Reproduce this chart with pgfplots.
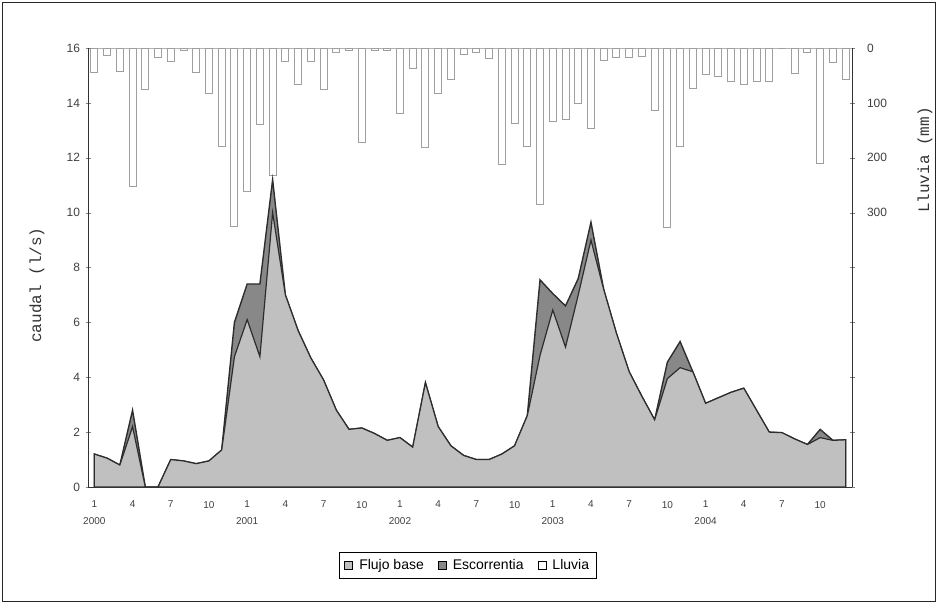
\documentclass[border=0pt]{standalone}
\usepackage{pgfplots}
\pgfplotsset{compat=1.18}
\usepackage{pgfplotstable}
\usepackage{fontspec}
\setmainfont{Liberation Sans}
\setmonofont{Liberation Mono}
\definecolor{basecol}{RGB}{192,192,192}
\definecolor{esccol}{RGB}{136,136,136}
\definecolor{linecol}{RGB}{45,45,45}
\pgfplotstableread{
i base total rain
0 1.2 1.2 45
1 1.05 1.05 13
2 0.8 0.8 43
3 2.2 2.8 253
4 0 0 76
5 0 0 18
6 1.0 1.0 25
7 0.95 0.95 5
8 0.85 0.85 45
9 0.95 0.95 82
10 1.35 1.35 180
11 4.75 6.0 326
12 6.1 7.4 262
13 4.75 7.4 140
14 10.0 11.2 233
15 7.0 7.0 25
16 5.7 5.7 67
17 4.7 4.7 25
18 3.9 3.9 76
19 2.8 2.8 8
20 2.1 2.1 5
21 2.15 2.15 173
22 1.95 1.95 5
23 1.7 1.7 5
24 1.8 1.8 119
25 1.45 1.45 37
26 3.8 3.8 182
27 2.2 2.2 82
28 1.5 1.5 58
29 1.15 1.15 12
30 1.0 1.0 8
31 1.0 1.0 20
32 1.2 1.2 213
33 1.5 1.5 137
34 2.6 2.6 180
35 4.8 7.55 286
36 6.45 7.05 134
37 5.1 6.6 131
38 7.0 7.6 101
39 9.0 9.65 146
40 7.2 7.2 22
41 5.6 5.6 18
42 4.2 4.2 18
43 3.3 3.3 15
44 2.45 2.45 113
45 3.95 4.55 328
46 4.35 5.3 180
47 4.2 4.2 73
48 3.05 3.05 49
49 3.25 3.25 52
50 3.45 3.45 61
51 3.6 3.6 67
52 2.8 2.8 61
53 2.0 2.0 61
54 1.98 1.98 0
55 1.75 1.75 46
56 1.55 1.55 9
57 1.8 2.1 210
58 1.7 1.7 27
59 1.72 1.72 58
}\datatable
\begin{document}
\begin{tikzpicture}[x=1pt,y=1pt]
\useasboundingbox (0,0) rectangle (937,603);
\draw[black!85, line width=0.8pt] (2,2) rectangle (935,601);
% rainfall axis (right, reversed)
\begin{axis}[
  at={(88pt,116pt)}, anchor=south west,
  width=764pt, height=439pt, scale only axis,
  xmin=-0.5, xmax=59.5, ymin=0, ymax=800, y dir=reverse,
  axis x line*=top, axis y line*=right,
  x axis line style={draw=gray!60, line width=1pt},
  y axis line style={draw=black!80, line width=0.8pt},
  xtick=\empty,
  ytick={0,100,...,800},
  yticklabels={0,100,200,300,,,,,},
  tick align=center, major tick length=5pt,
  yticklabel style={font=\fontsize{12}{14}\selectfont, text=black!75, xshift=9pt},
  /pgf/number format/assume math mode=true,
  clip=false,
]
\addplot[ybar, bar width=7pt, fill=white, draw=gray!75, line width=1pt] table[x=i,y=rain]{\datatable};
\end{axis}
% flow axis (left)
\begin{axis}[
  at={(88pt,116pt)}, anchor=south west,
  width=764pt, height=439pt, scale only axis,
  xmin=-0.5, xmax=59.5, ymin=0, ymax=16,
  axis x line*=bottom, axis y line*=left,
  axis line style={draw=black!80, line width=0.8pt},
  ytick={0,2,...,16},
  xtick={0,3,...,57},
  xticklabels={1\\2000,4,7,10,1\\2001,4,7,10,1\\2002,4,7,10,1\\2003,4,7,10,1\\2004,4,7,10},
  minor xtick={-0.5,0.5,...,59.5},
  xtick style={draw=none},
  minor tick length=4pt,
  tick align=center, major tick length=5pt,
  xticklabel style={align=center, font=\fontsize{10}{17}\selectfont, text=black!75, yshift=-8pt},
  yticklabel style={font=\fontsize{12}{14}\selectfont, text=black!75, xshift=-2pt},
  /pgf/number format/assume math mode=true,
  legend style={at={(axis description cs:0.497,-0.178)}, anchor=center,
     draw=black, line width=0.8pt, font=\fontsize{14}{16}\selectfont,
     inner xsep=5pt, inner ysep=5pt,
     /tikz/every odd column/.append style={column sep=4pt},
     /tikz/every even column/.append style={column sep=12pt}},
  legend columns=3,
  legend image code/.code={\draw[#1, line width=0.9pt] (0pt,-4pt) rectangle (8pt,4pt);},
]
\addplot[fill=esccol, draw=linecol, line width=1.4pt, forget plot] table[x=i,y=total]{\datatable} \closedcycle;
\addplot[fill=basecol, draw=linecol, line width=1.2pt, forget plot] table[x=i,y=base]{\datatable} \closedcycle;
\addlegendimage{fill=basecol, draw=black}
\addlegendentry{Flujo base}
\addlegendimage{fill=esccol, draw=black}
\addlegendentry{Escorrentia}
\addlegendimage{fill=white, draw=black}
\addlegendentry{Lluvia}
\end{axis}
\node[rotate=90, font=\ttfamily\fontsize{16}{18}\selectfont, text=black!80] at (37,318) {caudal (l/s)};
\node[rotate=90, font=\ttfamily\fontsize{16}{18}\selectfont, text=black!80] at (925,443) {Lluvia (mm)};
\end{tikzpicture}
\end{document}
